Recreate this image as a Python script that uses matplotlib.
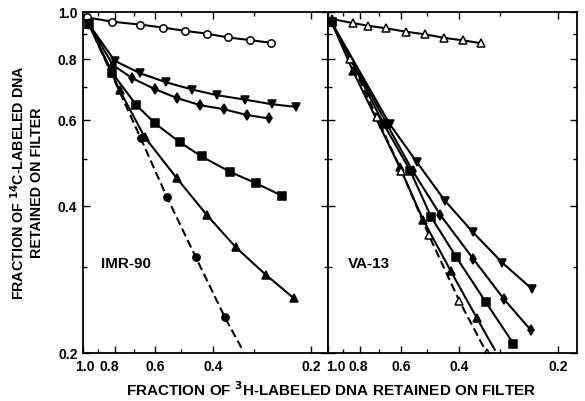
import numpy as np
import matplotlib
matplotlib.use("Agg")
import matplotlib.pyplot as plt
from matplotlib.ticker import FixedLocator, NullFormatter
from matplotlib.transforms import ScaledTranslation, blended_transform_factory

plt.rcParams['font.family'] = ['Liberation Sans', 'DejaVu Sans']
plt.rcParams['font.weight'] = 'bold'

# ---- IMR-90 (left panel) ----
imr_open_x = [0.973, 0.813, 0.667, 0.568, 0.488, 0.418, 0.360, 0.308, 0.266]
imr_open_y = [0.973, 0.953, 0.940, 0.927, 0.913, 0.901, 0.885, 0.874, 0.863]

imr_vtri_x = [0.96, 0.800, 0.670, 0.555, 0.462, 0.388, 0.318, 0.264, 0.223]
imr_vtri_y = [0.943, 0.793, 0.748, 0.716, 0.692, 0.674, 0.660, 0.646, 0.638]

imr_diam_x = [0.96, 0.810, 0.706, 0.603, 0.515, 0.437, 0.370, 0.315, 0.269]
imr_diam_y = [0.943, 0.777, 0.730, 0.694, 0.665, 0.643, 0.631, 0.614, 0.604]

imr_sq_x = [0.96, 0.813, 0.686, 0.603, 0.505, 0.433, 0.355, 0.295, 0.246]
imr_sq_y = [0.943, 0.748, 0.643, 0.591, 0.540, 0.505, 0.470, 0.445, 0.420]

imr_tri_x = [0.96, 0.772, 0.647, 0.516, 0.417, 0.340, 0.275, 0.226]
imr_tri_y = [0.943, 0.690, 0.553, 0.456, 0.383, 0.329, 0.289, 0.259]

imr_dot_x = [0.666, 0.553, 0.451, 0.368]
imr_dot_y = [0.551, 0.417, 0.314, 0.237]
imr_dash_x = [0.96, 0.666, 0.553, 0.451, 0.368, 0.327]
imr_dash_y = [0.943, 0.551, 0.417, 0.314, 0.237, 0.205]

# ---- VA-13 (right panel) ----
va_open_x = [0.969, 0.842, 0.754, 0.667, 0.579, 0.507, 0.443, 0.389, 0.342]
va_open_y = [0.965, 0.947, 0.935, 0.924, 0.909, 0.898, 0.883, 0.873, 0.861]

va_vtri_x = [0.975, 0.649, 0.536, 0.441, 0.362, 0.295, 0.239]
va_vtri_y = [0.950, 0.588, 0.491, 0.410, 0.353, 0.306, 0.270]

va_diam_x = [0.975, 0.662, 0.553, 0.455, 0.362, 0.292, 0.242]
va_diam_y = [0.950, 0.588, 0.472, 0.383, 0.312, 0.258, 0.223]

va_sq_x = [0.975, 0.677, 0.562, 0.485, 0.407, 0.331, 0.273]
va_sq_y = [0.950, 0.588, 0.472, 0.379, 0.314, 0.254, 0.209]

va_tri_x = [0.975, 0.840, 0.605, 0.514, 0.423, 0.353]
va_tri_y = [0.950, 0.756, 0.480, 0.375, 0.294, 0.236]
va_tri_line_x = [0.975, 0.840, 0.605, 0.514, 0.423, 0.353, 0.311]
va_tri_line_y = [0.950, 0.756, 0.480, 0.375, 0.294, 0.236, 0.203]

va_otri_x = [0.856, 0.710, 0.598, 0.493, 0.399, 0.329]
va_otri_y = [0.799, 0.607, 0.472, 0.348, 0.256, 0.200]
va_dash_x = [0.975, 0.856, 0.710, 0.598, 0.493, 0.399, 0.329]
va_dash_y = [0.950, 0.799, 0.607, 0.472, 0.348, 0.256, 0.200]

major = [1.0, 0.8, 0.6, 0.4, 0.2]
minor = [0.9, 0.7, 0.5, 0.3]
tick_labels = ['1.0', '0.8', '0.6', '0.4', '0.2']

fig = plt.figure(figsize=(5.85, 4.02), dpi=100)
ax1 = fig.add_axes([83/585, 48/402, 245/585, 341.5/402])
ax2 = fig.add_axes([328/585, 48/402, 249/585, 341.5/402])

lw = 1.5
ms = 5.3

def solid(ax, x, y, m, face='k', lx=None, ly=None):
    if lx is None:
        ax.plot(x, y, '-', color='k', lw=lw, marker=m, ms=ms,
                mfc=face, mec='k', mew=1.1)
    else:
        ax.plot(lx, ly, '-', color='k', lw=lw)
        ax.plot(x, y, ls='none', marker=m, ms=ms, mfc=face, mec='k', mew=1.1)

solid(ax1, imr_open_x, imr_open_y, 'o', 'white')
solid(ax1, imr_vtri_x, imr_vtri_y, 'v')
solid(ax1, imr_diam_x, imr_diam_y, 'd')
solid(ax1, imr_sq_x, imr_sq_y, 's')
solid(ax1, imr_tri_x, imr_tri_y, '^')
ax1.plot(imr_dash_x, imr_dash_y, '--', color='k', lw=lw, dashes=(4, 2))
ax1.plot(imr_dot_x, imr_dot_y, ls='none', marker='o', ms=ms, color='k')

solid(ax2, va_open_x, va_open_y, '^', 'white')
solid(ax2, va_vtri_x, va_vtri_y, 'v')
solid(ax2, va_diam_x, va_diam_y, 'd')
solid(ax2, va_sq_x, va_sq_y, 's')
solid(ax2, va_tri_x, va_tri_y, '^', lx=va_tri_line_x, ly=va_tri_line_y)
ax2.plot(va_dash_x, va_dash_y, '--', color='k', lw=lw, dashes=(4, 2))
ax2.plot(va_otri_x, va_otri_y, ls='none', marker='^', ms=ms, mfc='white',
         mec='k', mew=1.1)

ax1.text(0.075, 0.265, 'IMR-90', fontsize=11, transform=ax1.transAxes,
         va='center', ha='left')
ax2.text(0.08, 0.265, 'VA-13', fontsize=11, transform=ax2.transAxes,
         va='center', ha='left')

for ax, xr in [(ax1, 0.1775), (ax2, 0.1749)]:
    ax.set_xscale('log')
    ax.set_yscale('log')
    ax.set_xlim(1.0, xr)
    ax.set_ylim(0.2, 1.0)
    ax.xaxis.set_major_locator(FixedLocator(major))
    ax.xaxis.set_minor_locator(FixedLocator(minor))
    ax.yaxis.set_major_locator(FixedLocator(major))
    ax.yaxis.set_minor_locator(FixedLocator(minor))
    ax.xaxis.set_major_formatter(NullFormatter())
    ax.xaxis.set_minor_formatter(NullFormatter())
    ax.yaxis.set_minor_formatter(NullFormatter())
    ax.tick_params(which='both', direction='in', top=True, right=True,
                   width=1.0, labelsize=10, pad=4)
    ax.tick_params(which='major', length=5)
    ax.tick_params(which='minor', length=3)
    for s in ax.spines.values():
        s.set_linewidth(1.3)

ax1.set_yticklabels(tick_labels)
for lab in ax1.get_yticklabels():
    lab.set_fontweight('bold')
ax2.yaxis.set_major_formatter(NullFormatter())

# x tick labels drawn by hand so the crowded 1.0 / 0.8 pair can be nudged
label_shift = {ax1: [2, -5, 0, 0, 0], ax2: [8, -2, 0, 0, 0]}
for ax in (ax1, ax2):
    base = blended_transform_factory(ax.transData, ax.transAxes)
    for v, lab, dx in zip(major, tick_labels, label_shift[ax]):
        tr = base + ScaledTranslation(dx/100, -6/100, fig.dpi_scale_trans)
        ax.text(v, 0, lab, transform=tr, ha='center', va='top',
                fontsize=10, clip_on=False)

fig.text(18/585, 1 - 183/402, 'FRACTION OF $^{\\mathbf{14}}$C-LABELED DNA',
         rotation=90, ha='center', va='center', fontsize=10.3)
fig.text(37/585, 1 - 183/402, 'RETAINED ON FILTER',
         rotation=90, ha='center', va='center', fontsize=10.3)
fig.text(331/585, 1 - 390/402, 'FRACTION OF $^{\\mathbf{3}}$H-LABELED DNA RETAINED ON FILTER',
         ha='center', va='center', fontsize=11)

fig.savefig('out.png', dpi=100)
